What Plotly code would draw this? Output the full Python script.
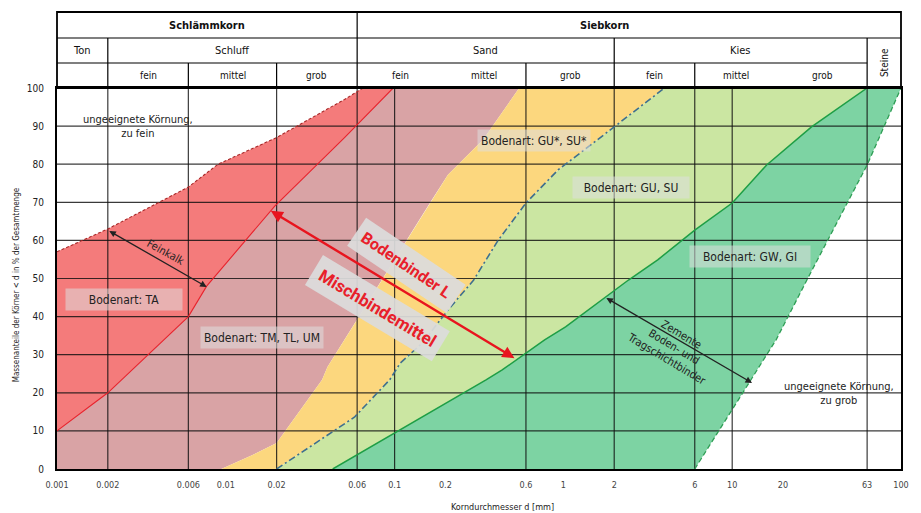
import numpy as np
import plotly.graph_objects as go

# ---------------- data ----------------
x_ticks = [0.001, 0.002, 0.006, 0.01, 0.02, 0.06, 0.1, 0.2, 0.6, 1, 2, 6, 10, 20, 63, 100]
x_tick_text = ["0.001", "0.002", "0.006", "0.01", "0.02", "0.06", "0.1", "0.2", "0.6",
               "1", "2", "6", "10", "20", "63", "100"]
y_ticks = [0, 10, 20, 30, 40, 50, 60, 70, 80, 90, 100]
x_grid = [0.002, 0.006, 0.02, 0.06, 0.1, 0.6, 2, 6, 10, 63]
y_grid = [10, 20, 30, 40, 50, 60, 70, 80, 90]

# boundary curves (grain diameter mm, passing %)
fine_limit_x = [0.001, 0.002, 0.006, 0.009, 0.02, 0.0505, 0.065]
fine_limit_y = [57, 63, 74, 80, 87, 97, 100]

ta_limit_x = [0.001, 0.002, 0.006, 0.0077, 0.0195, 0.0505, 0.098]
ta_limit_y = [10, 20, 40, 48, 69, 87, 100]

tm_limit_x = [0.0094, 0.0144, 0.02, 0.0372, 0.040, 0.089, 0.166, 0.207, 0.334, 0.547]
tm_limit_y = [0, 3.7, 6.8, 23.4, 26.8, 51.4, 70.6, 77.2, 86.4, 100]

gux_limit_x = [0.02, 0.0387, 0.0578, 0.0935, 0.108, 0.146, 0.207, 0.294, 0.41, 0.6, 0.93, 2.0, 3.97]
gux_limit_y = [0, 8.4, 13.6, 23.4, 27.8, 33.1, 41.7, 49.6, 60, 69.8, 78.5, 89.8, 100]

gu_limit_x = [0.043, 0.1, 0.348, 0.434, 0.774, 1.03, 2.43, 3.62, 6, 10, 16, 29.5, 63]
gu_limit_y = [0, 9.4, 23.4, 26, 33.9, 37.3, 49.6, 54.9, 62.7, 69.8, 79.8, 89.8, 100]

coarse_limit_x = [6, 18.2, 28.3, 63, 100]
coarse_limit_y = [0, 33.9, 50.4, 79.8, 100]

# header table
row1_div = [0.06]
row2_div = [0.002, 0.06, 2]
row3_div = [0.002, 0.006, 0.02, 0.06, 0.6, 2, 6]
steine_div = 63
row1_labels = [("<b>Schlämmkorn</b>", 0.00775), ("<b>Siebkorn</b>", 1.75)]
row2_labels = [("Ton", 0.00141), ("Schluff", 0.011), ("Sand", 0.346), ("Kies", 11.2)]
row3_labels = [("fein", 0.00346), ("mittel", 0.011), ("grob", 0.0346), ("fein", 0.109),
               ("mittel", 0.34), ("grob", 1.095), ("fein", 3.46), ("mittel", 10.6), ("grob", 34.5)]

# soil type labels (mm, %)
zone_labels = [
    ("Bodenart: TA", 0.0025, 44.6, 110),
    ("Bodenart: TM, TL, UM", 0.0164, 34.4, 116),
    ("Bodenart: GU*, SU*", 0.67, 86.1, 106),
    ("Bodenart: GU, SU", 2.52, 73.8, 110),
    ("Bodenart: GW, GI", 12.7, 55.9, 114),
]

# ---------------- figure ----------------
L = np.log10
FONT = "Liberation Sans Narrow, DejaVu Sans Condensed, Arial Narrow, Liberation Sans, Arial"

fig = go.Figure()

def poly(xs, ys, color):
    fig.add_trace(go.Scatter(x=xs, y=ys, fill="toself", fillcolor=color, mode="lines",
                             line=dict(width=0, color=color), hoverinfo="skip", showlegend=False))

c_ta = "#F47B7B"
c_tm = "#D9A3A5"
c_gux = "#FCD77E"
c_gu = "#CBE6A2"
c_gw = "#7DD3A3"

poly(fine_limit_x + ta_limit_x[::-1], fine_limit_y + ta_limit_y[::-1], c_ta)
poly(ta_limit_x + tm_limit_x[::-1] + [0.001], ta_limit_y + tm_limit_y[::-1] + [0], c_tm)
poly(tm_limit_x + gux_limit_x[::-1], tm_limit_y + gux_limit_y[::-1], c_gux)
poly(gux_limit_x + gu_limit_x[::-1], gux_limit_y + gu_limit_y[::-1], c_gu)
poly(gu_limit_x + coarse_limit_x[::-1], gu_limit_y + coarse_limit_y[::-1], c_gw)

# grid lines above fills
gx, gy = [], []
for v in x_grid:
    gx += [v, v, None]
    gy += [0, 100, None]
for h in y_grid:
    gx += [0.001, 100, None]
    gy += [h, h, None]
fig.add_trace(go.Scatter(x=gx, y=gy, mode="lines", line=dict(color="rgba(15,15,15,0.82)", width=1.2),
                         hoverinfo="skip", showlegend=False))

# boundary lines
def bline(xs, ys, color, width, dash):
    fig.add_trace(go.Scatter(x=xs, y=ys, mode="lines", line=dict(color=color, width=width, dash=dash),
                             hoverinfo="skip", showlegend=False))

bline(fine_limit_x, fine_limit_y, "#A82828", 1.1, "3px,2px")
bline(ta_limit_x, ta_limit_y, "#E8202A", 1.1, "solid")
bline(gux_limit_x, gux_limit_y, "#3E6F8E", 1.6, "7px,3px,2px,3px")
bline(gu_limit_x, gu_limit_y, "#1E9E45", 1.5, "solid")
bline(coarse_limit_x, coarse_limit_y, "#2E9E55", 1.3, "5px,3px")

# ---------------- header table ----------------
y_r3 = 1.0656
y_r2 = 1.1312
y_top = 1.1995
shapes = []
shapes.append(dict(type="rect", xref="paper", yref="paper", x0=0, x1=1, y0=1, y1=y_top,
                   line=dict(color="black", width=1.8)))
shapes.append(dict(type="line", xref="paper", yref="paper", x0=0, x1=1, y0=y_r2, y1=y_r2,
                   line=dict(color="black", width=1.2)))
shapes.append(dict(type="line", xref="x", yref="paper", x0=0.001, x1=steine_div, y0=y_r3, y1=y_r3,
                   line=dict(color="black", width=1.2)))
for v in row1_div:
    shapes.append(dict(type="line", xref="x", yref="paper", x0=v, x1=v, y0=y_r2, y1=y_top,
                       line=dict(color="black", width=1.2)))
for v in row2_div:
    shapes.append(dict(type="line", xref="x", yref="paper", x0=v, x1=v, y0=y_r3, y1=y_r2,
                       line=dict(color="black", width=1.2)))
for v in row3_div:
    shapes.append(dict(type="line", xref="x", yref="paper", x0=v, x1=v, y0=1, y1=y_r3,
                       line=dict(color="black", width=1.2)))
shapes.append(dict(type="line", xref="x", yref="paper", x0=steine_div, x1=steine_div, y0=1, y1=y_r2,
                   line=dict(color="black", width=1.2)))

ann = []
def hdr(t, xv, yv, size, angle=0):
    ann.append(dict(text=t, x=L(xv), y=yv, xref="x", yref="paper", showarrow=False,
                    xanchor="center", yanchor="middle", textangle=angle,
                    font=dict(size=size, color="#111", family=FONT)))

for t, xv in row1_labels:
    hdr(t, xv, (y_r2 + y_top) / 2, 11)
for t, xv in row2_labels:
    hdr(t, xv, (y_r3 + y_r2) / 2, 11)
for t, xv in row3_labels:
    hdr(t, xv, (1 + y_r3) / 2, 10)
hdr("Steine", 79.4, (1 + y_r2) / 2, 10, -90)

# ---------------- labels in the chart ----------------
for t, xv, yv, w in zone_labels:
    ann.append(dict(text=t, x=L(xv), y=yv, xref="x", yref="y", showarrow=False,
                    bgcolor="rgba(222,222,222,0.55)", borderpad=3, width=w, height=15,
                    font=dict(size=12, color="#222", family=FONT)))

ann.append(dict(text="ungeeignete Körnung,<br>zu fein", x=L(0.003), y=89.8, xref="x", yref="y",
                showarrow=False, font=dict(size=11, color="#222", family=FONT)))
ann.append(dict(text="ungeeignete Körnung,<br>zu grob", x=L(43), y=19.7, xref="x", yref="y",
                showarrow=False, font=dict(size=11, color="#222", family=FONT)))
ann.append(dict(text="Feinkalk", x=L(0.0044), y=56.7, xref="x", yref="y", showarrow=False,
                textangle=29, font=dict(size=11, color="#222", family=FONT)))
ann.append(dict(text="Zemente<br>Boden- und<br>Tragschichtbinder", x=L(4.5), y=32.0, xref="x", yref="y",
                showarrow=False, textangle=31, font=dict(size=11, color="#222", family=FONT)))

ann.append(dict(text="<b>Bodenbinder L</b>", x=L(0.118), y=53.5, xref="x", yref="y", showarrow=False,
                textangle=34, bgcolor="rgba(220,220,220,0.93)", borderpad=7,
                font=dict(size=16, color="#E8202A", family="Roboto, Liberation Sans, Arial")))
ann.append(dict(text="<b>Mischbindemittel</b>", x=L(0.079), y=42.3, xref="x", yref="y", showarrow=False,
                textangle=31, bgcolor="rgba(220,220,220,0.93)", borderpad=7,
                font=dict(size=17, color="#E8202A", family="Roboto, Liberation Sans, Arial")))

# arrows
def arrow(x0, y0, x1, y1, color, width):
    ann.append(dict(text="", x=L(x1), y=y1, ax=L(x0), ay=y0, xref="x", yref="y", axref="x", ayref="y",
                    showarrow=True, arrowside="end+start", arrowhead=2, startarrowhead=2,
                    arrowsize=1, startarrowsize=1, arrowwidth=width, arrowcolor=color,
                    standoff=0, startstandoff=0))

arrow(0.002, 62.7, 0.0077, 47.8, "#222", 1.3)
arrow(0.0181, 68, 0.513, 29.1, "#E8141E", 2.4)
arrow(1.76, 45.1, 13.1, 22.6, "#222", 1.3)

# axis titles
ann.append(dict(text="Massenanteile der Körner &lt; d in % der Gesamtmenge", x=-0.047, y=0.483,
                xref="paper", yref="paper", showarrow=False, textangle=-90,
                xanchor="center", yanchor="middle",
                font=dict(size=8, color="#222", family=FONT)))
ann.append(dict(text="Korndurchmesser d [mm]", x=0.528, y=-0.1, xref="paper", yref="paper",
                showarrow=False, xanchor="center", yanchor="middle",
                font=dict(size=9, color="#222", family=FONT)))

# page body has an 8 px margin, so the figure is sized/offset to compensate
fig.update_layout(
    width=913, height=505,
    margin=dict(l=49, r=16, t=80, b=44),
    paper_bgcolor="white", plot_bgcolor="white",
    showlegend=False,
    shapes=shapes, annotations=ann,
    xaxis=dict(type="log", range=[-3, 2], tickvals=x_ticks, ticktext=x_tick_text,
               showgrid=False, zeroline=False, showline=True, linecolor="black", linewidth=2,
               mirror=True, ticks="", ticklabelstandoff=6, layer="above traces",
               tickfont=dict(size=9, color="#444", family=FONT)),
    yaxis=dict(range=[0, 100], tickvals=y_ticks, showgrid=False, zeroline=False,
               showline=True, linecolor="black", linewidth=2, mirror=True, ticks="",
               ticklabelstandoff=9, layer="above traces",
               tickfont=dict(size=10, color="#222", family=FONT)),
)

fig.write_html("out.html")
